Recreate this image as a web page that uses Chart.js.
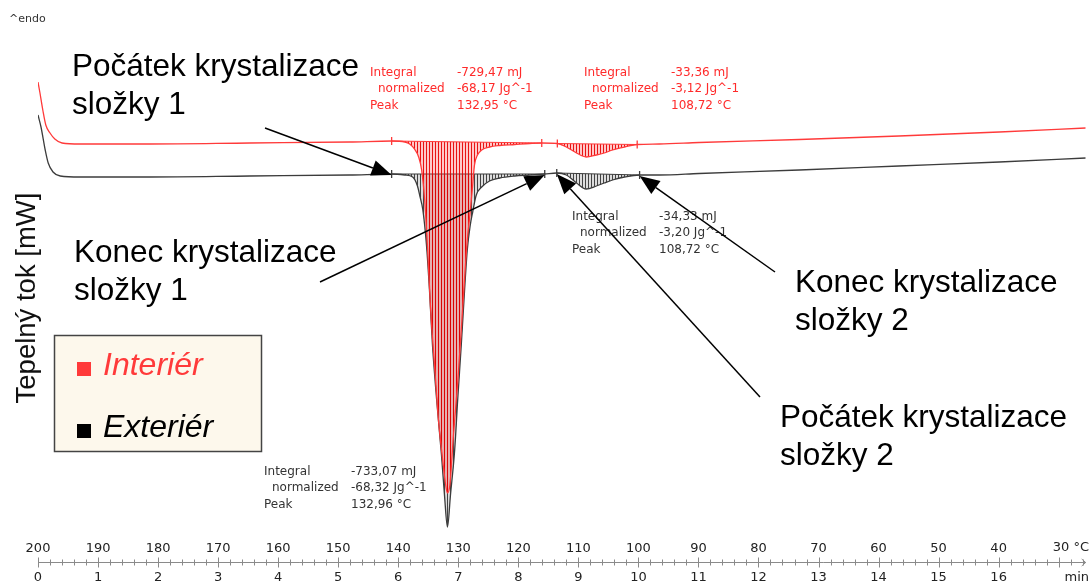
<!DOCTYPE html>
<html><head><meta charset="utf-8">
<script src="https://cdn.jsdelivr.net/npm/chart.js@4.4.1/dist/chart.umd.min.js"></script>
<style>html,body{margin:0;padding:0;background:#fff}#wrap{width:1091px;height:584px;position:relative}</style>
</head><body><div id="wrap"><canvas id="c" width="1091" height="584"></canvas></div>
<script>
// ---- data (time in min, heat flow in mW) ----
const exteriorTime = [0.00,0.05,0.12,0.17,0.25,0.37,0.70,1.86,3.53,5.19,5.89,6.11,6.24,6.32,6.36,6.41,6.47,6.52,6.57,6.64,6.72,6.77,6.82,6.87,6.94,6.99,7.05,7.10,7.15,7.20,7.24,7.30,7.39,7.52,7.69,7.94,8.19,8.44,8.64,8.80,8.97,9.13,9.30,9.43,9.57,9.77,10.02,10.35,11.01,12.68,14.34,16.01,17.45];
const exteriorFlow = [5.8,4.6,2.3,1.0,0.1,-0.3,-0.4,-0.4,-0.3,-0.2,-0.1,-0.2,-0.4,-1.3,-2.3,-3.7,-7.2,-11.7,-17.2,-22.7,-28.2,-32.2,-35.4,-32.2,-27.7,-22.7,-17.2,-12.2,-7.7,-5.2,-3.9,-2.2,-1.4,-0.8,-0.5,-0.3,-0.2,-0.1,0.0,-0.2,-1.0,-1.6,-1.3,-1.0,-0.7,-0.4,-0.2,-0.2,-0.05,0.3,0.7,1.1,1.5];
const interiorTime = [0.00,0.03,0.08,0.13,0.20,0.28,0.40,0.70,1.86,3.53,5.19,5.89,6.11,6.19,6.27,6.34,6.39,6.44,6.49,6.54,6.61,6.67,6.74,6.79,6.82,6.86,6.92,6.99,7.05,7.10,7.15,7.19,7.24,7.27,7.32,7.39,7.52,7.69,7.94,8.19,8.39,8.65,8.80,8.97,9.13,9.30,9.43,9.57,9.77,9.98,10.35,11.01,12.68,14.34,16.01,17.45];
const interiorFlow = [9.1,8.1,6.3,4.8,4.0,3.4,3.0,2.9,2.9,3.0,3.1,3.2,3.1,2.9,2.4,1.6,0.3,-2.7,-7.7,-13.7,-19.7,-24.7,-28.7,-31.2,-32.0,-31.2,-26.2,-21.0,-15.7,-11.0,-6.7,-4.4,-1.2,0.8,1.8,2.3,2.6,2.75,2.85,2.95,3.0,2.95,2.6,2.0,1.6,1.8,2.0,2.3,2.6,2.85,2.9,3.05,3.35,3.7,4.1,4.5];
// crystallisation peak limits (min)
const exteriorPeakStart = [5.89, 8.64];
const exteriorPeakEnd   = [8.44, 10.02];
const interiorPeakStart = [5.89, 8.65];
const interiorPeakEnd   = [8.39, 9.98];
// peak evaluation results
const interiorIntegral   = ['-729,47 mJ', '-33,36 mJ'];
const interiorNormalized = ['-68,17 Jg^-1', '-3,12 Jg^-1'];
const interiorPeakTemp   = ['132,95 °C', '108,72 °C'];
const exteriorIntegral   = ['-733,07 mJ', '-34,33 mJ'];
const exteriorNormalized = ['-68,32 Jg^-1', '-3,20 Jg^-1'];
const exteriorPeakTemp   = ['132,96 °C', '108,72 °C'];
// tick labels
const minuteTicks = [0,1,2,3,4,5,6,7,8,9,10,11,12,13,14,15,16];
const tempTicks   = [200,190,180,170,160,150,140,130,120,110,100,90,80,70,60,50,40];
const lastTempLabel = '30 °C';
const timeUnit = 'min';
const seriesNames = ['Interiér', 'Exteriér'];
const yTitle = 'Tepelný tok [mW]';
const calloutTexts = [
  ['Počátek krystalizace', 'složky 1'],
  ['Konec krystalizace', 'složky 1'],
  ['Konec krystalizace', 'složky 2'],
  ['Počátek krystalizace', 'složky 2']
];

// ---- helpers ----
const RED = '#ff3a3a', DARK = '#3c3c3c';
function pts(t, v){ return t.map((x,i)=>({x, y:v[i]})); }
function valAt(t, v, x){
  for (let i=0;i<t.length;i++){ if (Math.abs(t[i]-x)<1e-9) return v[i]; }
  for (let i=1;i<t.length;i++){ if (t[i]>=x){ const f=(x-t[i-1])/(t[i]-t[i-1]); return v[i-1]+f*(v[i]-v[i-1]); } }
  return v[v.length-1];
}
function between(t, v, a, b){ const out=[]; t.forEach((x,i)=>{ if (x>=a-1e-9 && x<=b+1e-9) out.push({x, y:v[i]}); }); return out; }

const canvas = document.getElementById('c');
const ctx = canvas.getContext('2d');
function hatch(lineCol, bgCol, step){
  const c = document.createElement('canvas'); c.width = step; c.height = 8;
  const g = c.getContext('2d');
  g.fillStyle = bgCol; g.fillRect(0,0,step,8);
  g.fillStyle = lineCol; g.fillRect(0,0,1,8);
  return ctx.createPattern(c, 'repeat');
}
const redHatch = hatch('rgba(230,0,0,0.9)', 'rgba(255,60,60,0.28)', 3);
const darkHatch = hatch('rgba(40,40,40,0.85)', 'rgba(120,120,120,0.25)', 3);

const datasets = [];
datasets.push({label: seriesNames[0], data: pts(interiorTime, interiorFlow), borderColor: RED, borderWidth: 1.3, pointRadius: 0, fill: false, order: 1, cubicInterpolationMode: 'monotone'});
datasets.push({label: seriesNames[1], data: pts(exteriorTime, exteriorFlow), borderColor: DARK, borderWidth: 1.3, pointRadius: 0, fill: false, order: 2, cubicInterpolationMode: 'monotone'});
function addPeaks(t, v, starts, ends, color, pattern, order){
  for (let i=0;i<starts.length;i++){
    const bIdx = datasets.length;
    datasets.push({data: [{x: starts[i], y: valAt(t,v,starts[i])}, {x: ends[i], y: valAt(t,v,ends[i])}],
      borderColor: color, borderWidth: 1, fill: false, pointStyle: 'line', rotation: 90, pointRadius: 4,
      pointBorderColor: color, pointBorderWidth: 1.3, order: order});
    datasets.push({data: between(t, v, starts[i], ends[i]), borderWidth: 0, borderColor: 'rgba(0,0,0,0)', pointRadius: 0,
      fill: bIdx, backgroundColor: pattern, order: order + 1, cubicInterpolationMode: 'monotone'});
  }
}
addPeaks(exteriorTime, exteriorFlow, exteriorPeakStart, exteriorPeakEnd, DARK, darkHatch, 10);
addPeaks(interiorTime, interiorFlow, interiorPeakStart, interiorPeakEnd, RED, redHatch, 5);

const tickFont = {family: 'DejaVu Sans', size: 13};

const decor = {
  id: 'decor',
  afterDraw(chart){
    const c = chart.ctx, xs = chart.scales.x, ys = chart.scales.y;
    c.save();
    // axis line with ticks
    const ay = xs.top + 5;
    c.strokeStyle = '#8a8a8a'; c.lineWidth = 1;
    c.beginPath();
    c.moveTo(xs.getPixelForValue(0), ay + 0.5); c.lineTo(xs.getPixelForValue(xs.max), ay + 0.5);
    for (let k = 0; k <= Math.floor(xs.max * 5 + 1e-6); k++){
      const t = k / 5, px = Math.round(xs.getPixelForValue(t)) + 0.5;
      const h = (k % 5 === 0) ? 5 : 3;
      c.moveTo(px, ay - h + 0.5); c.lineTo(px, ay + h + 0.5);
    }
    const ex = xs.getPixelForValue(xs.max);
    c.moveTo(ex - 4, ay - 3); c.lineTo(ex, ay + 0.5); c.lineTo(ex - 4, ay + 4);
    c.stroke();
    // end labels
    c.fillStyle = '#222'; c.font = '13px "DejaVu Sans"'; c.textAlign = 'right'; c.textBaseline = 'middle';
    c.fillText(lastTempLabel, 1089, 548);
    c.fillText(timeUnit, 1089, 578);
    // ^endo
    c.textAlign = 'left'; c.font = '11px "DejaVu Sans"'; c.fillStyle = '#333';
    c.fillText('^endo', 9, 19);
    // y title
    c.save(); c.translate(27, 298); c.rotate(-Math.PI/2);
    c.font = '27.5px "Liberation Sans"'; c.fillStyle = '#111'; c.textAlign = 'center'; c.textBaseline = 'middle';
    c.fillText(yTitle, 0, 0); c.restore();
    // result blocks
    function block(x, y, vals, col){
      c.font = '12px "DejaVu Sans"'; c.fillStyle = col; c.textAlign = 'left'; c.textBaseline = 'middle';
      const labs = ['Integral', 'normalized', 'Peak'], ind = [0, 8, 0];
      for (let i=0;i<3;i++){ c.fillText(labs[i], x + ind[i], y + i*16.3); c.fillText(vals[i], x + 87, y + i*16.3); }
    }
    block(370, 73, [interiorIntegral[0], interiorNormalized[0], interiorPeakTemp[0]], '#ff2a2a');
    block(584, 73, [interiorIntegral[1], interiorNormalized[1], interiorPeakTemp[1]], '#ff2a2a');
    block(264, 472, [exteriorIntegral[0], exteriorNormalized[0], exteriorPeakTemp[0]], '#333');
    block(572, 217, [exteriorIntegral[1], exteriorNormalized[1], exteriorPeakTemp[1]], '#333');
    // callout texts
    c.font = '31.5px "Liberation Sans"'; c.fillStyle = '#000'; c.textBaseline = 'alphabetic';
    const pos = [[72, 76], [74, 262], [795, 292], [780, 427]];
    calloutTexts.forEach((lines, i) => {
      lines.forEach((s, j) => c.fillText(s, pos[i][0], pos[i][1] + j * 38));
    });
    // arrows to the black peak limits
    const heads = [
      [exteriorPeakStart[0], exteriorTime, exteriorFlow, 265, 128],
      [exteriorPeakEnd[0], exteriorTime, exteriorFlow, 320, 282],
      [exteriorPeakEnd[1], exteriorTime, exteriorFlow, 775, 272],
      [exteriorPeakStart[1], exteriorTime, exteriorFlow, 760, 397]
    ];
    c.strokeStyle = '#000'; c.fillStyle = '#000'; c.lineWidth = 1.5;
    heads.forEach(([t, tt, vv, sx, sy]) => {
      const hx = xs.getPixelForValue(t), hy = ys.getPixelForValue(valAt(tt, vv, t)) + 1;
      const ang = Math.atan2(hy - sy, hx - sx), L = 20, W = 8;
      const bx = hx - L*Math.cos(ang), by = hy - L*Math.sin(ang);
      c.beginPath(); c.moveTo(sx, sy); c.lineTo(bx, by); c.stroke();
      c.beginPath(); c.moveTo(hx, hy);
      c.lineTo(bx + W*Math.sin(ang), by - W*Math.cos(ang));
      c.lineTo(bx - W*Math.sin(ang), by + W*Math.cos(ang));
      c.closePath(); c.fill();
    });
    // legend box
    c.fillStyle = '#fdf8ec'; c.fillRect(54, 335, 207, 116);
    c.strokeStyle = '#444'; c.lineWidth = 1.5; c.strokeRect(54.5, 335.5, 207, 116);
    const legCols = [RED, '#000'];
    seriesNames.forEach((n, i) => {
      const yb = 375 + i * 62;
      c.fillStyle = legCols[i]; c.fillRect(77, yb - 13, 14, 14);
      c.font = 'italic 32px "Liberation Sans"'; c.textAlign = 'left'; c.textBaseline = 'alphabetic';
      c.fillText(n, 103, yb);
    });
    c.restore();
  }
};

new Chart(canvas, {
  type: 'line',
  data: {datasets},
  options: {
    responsive: false, animation: false, devicePixelRatio: 1,
    layout: {padding: {left: 38, right: 4, top: 0, bottom: 0}},
    plugins: {legend: {display: false}, tooltip: {enabled: false}},
    elements: {line: {tension: 0}},
    scales: {
      x: {type: 'linear', position: 'bottom', min: 0, max: 17.45, weight: 1,
        grid: {display: false, drawTicks: false}, border: {display: false},
        ticks: {stepSize: 1, includeBounds: false, autoSkip: false, maxRotation: 0, minRotation: 0, padding: 13,
          color: '#222', font: tickFont,
          callback: v => { const i = minuteTicks.indexOf(Math.round(v)); return i >= 0 ? String(minuteTicks[i]) : ''; }},
        afterFit: s => { s.height = 27; }},
      xt: {type: 'linear', position: 'bottom', min: 0, max: 17.45, weight: 0,
        grid: {display: false, drawTicks: false}, border: {display: false},
        ticks: {stepSize: 1, includeBounds: false, autoSkip: false, maxRotation: 0, minRotation: 0, padding: 6,
          color: '#222', font: tickFont,
          callback: v => { const i = Math.round(v); return i < tempTicks.length ? String(tempTicks[i]) : ''; }},
        afterFit: s => { s.height = 22; }},
      y: {display: false, min: -36.2, max: 16.77}
    }
  },
  plugins: [decor]
});
</script></body></html>
